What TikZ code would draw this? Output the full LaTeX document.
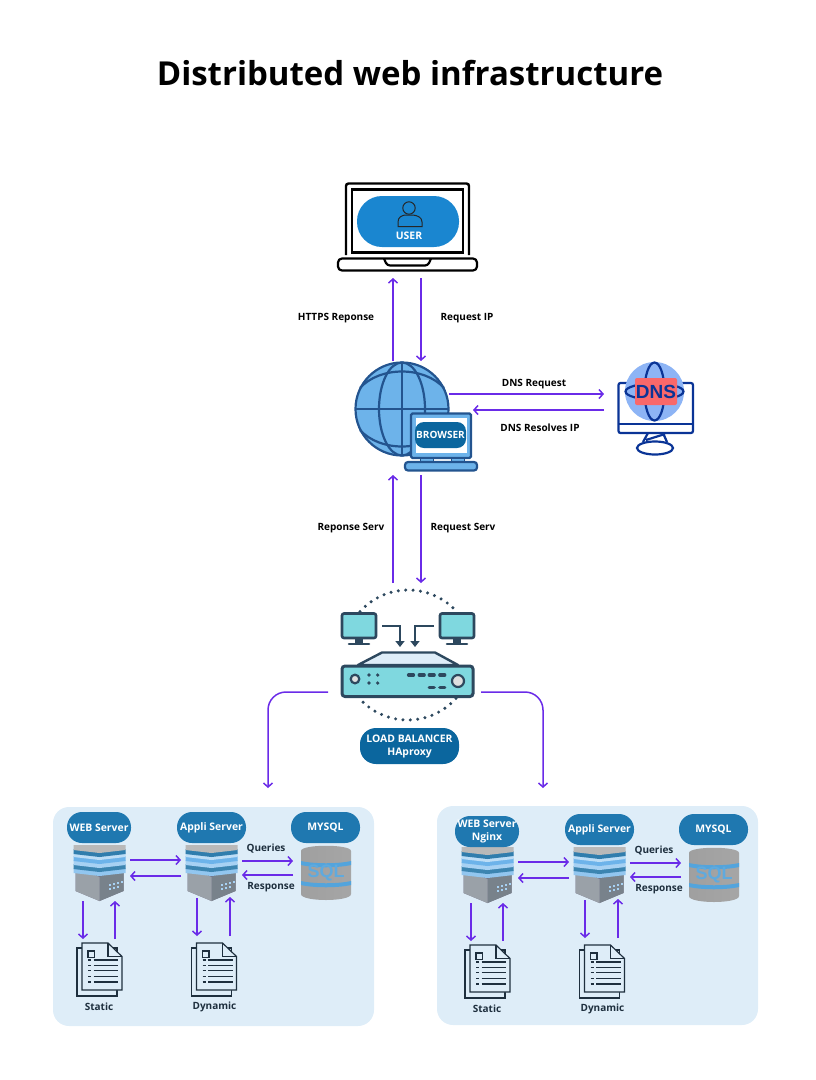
\documentclass[tikz,border=0pt]{standalone}
\usepackage{fontspec}
\setmainfont{Open Sans}
\newfontfamily\iconfont{Liberation Sans}
\usetikzlibrary{calc,positioning,arrows.meta}
\definecolor{myviolet}{RGB}{106,43,232}
\definecolor{mypanel}{RGB}{222,237,248}
\definecolor{mypill}{RGB}{31,120,176}
\definecolor{mydeep}{RGB}{11,102,158}
\definecolor{myuser}{RGB}{26,134,208}
\definecolor{myglobe}{RGB}{109,179,234}
\definecolor{mynavy}{RGB}{35,84,143}
\definecolor{mydns}{RGB}{10,52,150}
\definecolor{mydnsglobe}{RGB}{141,180,245}
\definecolor{mydnsred}{RGB}{249,104,106}
\definecolor{mylb}{RGB}{45,72,94}
\definecolor{mycyan}{RGB}{127,216,223}
\definecolor{myink}{RGB}{30,47,62}
\tikzset{
  flow/.style={-{Straight Barb[length=4pt,width=9pt]},myviolet,line width=1.5pt},
  lbflow/.style={-{Triangle[length=6pt,width=9pt]},mylb,line width=2.6pt},
  caption/.style={font=\fontsize{10}{12}\bfseries,text=black,inner sep=0pt},
  darkcaption/.style={font=\fontsize{10}{12}\bfseries,text=myink,inner sep=0pt},
  pill/.style={fill=#1,text=white,font=\fontsize{10.4}{13}\bfseries,align=center,rounded corners=15pt,inner sep=0pt},
  iconbox/.style={inner sep=0pt,outer sep=0pt},
  stackbox/.style={iconbox,minimum width=53pt,minimum height=56pt,outer xsep=4pt},
  sqlbox/.style={iconbox,minimum width=50pt,minimum height=53pt,outer xsep=8pt},
  docbox/.style={iconbox,minimum width=45pt,minimum height=53pt,outer ysep=4pt},
  panelbox/.style={iconbox,fill=mypanel,minimum width=321pt,minimum height=219pt,rounded corners=16pt},
  pics/serverstack/.style={code={
    \fill[black!10!blue!10!gray] (-24,-6) -- (24,-6) -- (24,18) -- (0,28) -- (-24,18) -- cycle;
    \fill[myink!60!white] (0,4) -- (24,-6) -- (24,18) -- (0,28) -- cycle;
    \fill[myink!45!white] (-24,-6) -- (0,4) -- (0,28) -- (-24,18) -- cycle;
    \foreach \y/\c in {-5/myglobe!75!white,-9/mydeep!80!white,-13/myglobe!60!white,-17/myglobe,-21/myglobe!45!white,-24/mydeep!85!white,-28/gray!55!white}{
      \fill[\c] (-26,\y) -- (26,\y) -- (26,\y+5) -- (0,\y+8) -- (-26,\y+5) -- cycle;
    }
    \foreach \x/\y in {9/11,13/10,17/9,21/8,9/15,13/14,17/13}{
      \fill[myglobe!60!white] (\x,\y) rectangle ++(2.5,2);
    }
  }},
  pics/sqldrum/.style={code={
    \shade[left color=gray!75,middle color=gray!20,right color=gray!70] (-25,-22) .. controls (-25,-29) and (25,-29) .. (25,-22) -- (25,21) .. controls (25,29) and (-25,29) .. (-25,21) -- cycle;
    \fill[myuser!75!white] (-25,-12) .. controls (-12,-9) and (12,-9) .. (25,-12) -- (25,-8) .. controls (12,-5) and (-12,-5) .. (-25,-8) -- cycle;
    \fill[myuser!75!white] (-25,8) .. controls (-12,11) and (12,11) .. (25,8) -- (25,12) .. controls (12,15) and (-12,15) .. (-25,12) -- cycle;
  }},
  pics/pagestack/.style={code={
    \draw[myink,line width=1.2pt,fill=mypanel] (-22.5,-21.5) rectangle (17.5,26.5);
    \draw[myink,line width=1.2pt,fill=mypanel] (-17.5,-26.5) -- (8.5,-26.5) -- (22.5,-13) -- (22.5,20.5) -- (-17.5,20.5) -- cycle;
    \draw[myink,line width=1.2pt] (8.5,-26.5) -- (8.5,-13) -- (22.5,-13);
    \draw[myink,line width=1.2pt] (-11.5,-18.5) rectangle (-5,-12);
    \foreach \y in {-9.5,-4,1,7,12.5}{
      \draw[myink,line width=1.2pt] (-11.5,\y) -- (-8.5,\y);
      \draw[myink,line width=1.2pt] (-6,\y) -- (18.5,\y);
    }
  }},
  pics/lbscreen/.style={code={
    \draw[mylb,line width=2.6pt,fill=mycyan,rounded corners=2pt] (-17,-12.5) rectangle (17,12);
    \fill[mylb] (-4,12) rectangle (4,17);
    \draw[mylb,line width=2.6pt,line cap=round] (-10,18) -- (10,18);
  }}
}
% one server group
\newcommand{\infrapanel}[5]{
  \begin{scope}[shift={(#2,#3)}]
    % server nodes
    \node[stackbox] (#1web) at (99.5,873) {};
    \node[stackbox] (#1appli) at (211.5,873) {};
    \node[sqlbox] (#1sql) at (326,873) {};
    \node[docbox] (#1static) at (99.5,969.5) {};
    \node[docbox] (#1dynamic) at (214,969.5) {};
    \pic at (#1web) {serverstack};
    \pic at (#1appli) {serverstack};
    \pic at (#1sql) {sqldrum};
    \pic at (#1static) {pagestack};
    \pic at (#1dynamic) {pagestack};
    \node[font=\iconfont\fontsize{18}{18}\bfseries,text=myuser!70!white,inner sep=0pt] (#1sqltext) at (326,872.5) {SQL};

    % titles
    \node[pill=mypill,minimum width=64pt,minimum height=31pt] (#1webtitle) at (99,#5) {#4};
    \node[pill=mypill,minimum width=69pt,minimum height=31pt] (#1applititle) at (211.5,827.5) {Appli Server};
    \node[pill=mypill,minimum width=69pt,minimum height=31pt] (#1sqltitle) at (325.5,827.5) {MYSQL};

    % connections
    \draw[flow] ([yshift=13pt]#1web.east) -- ([yshift=13pt]#1appli.west);
    \draw[flow] ([yshift=-3pt]#1appli.west) -- ([yshift=-3pt]#1web.east);
    \draw[flow] ([yshift=12pt]#1appli.east) -- ([yshift=12pt]#1sql.west);
    \draw[flow] ([yshift=-2pt]#1sql.west) -- ([yshift=-2pt]#1appli.east);
    \draw[flow] ([xshift=-16.5pt]#1web.south) -- ([xshift=-16.5pt]#1static.north);
    \draw[flow] ([xshift=15.5pt]#1static.north) -- ([xshift=15.5pt]#1web.south);
    \draw[flow] ([xshift=-14.5pt,yshift=3pt]#1appli.south) -- ([xshift=-17pt,yshift=3pt]#1dynamic.north);
    \draw[flow] ([xshift=16pt,yshift=3pt]#1dynamic.north) -- ([xshift=18.5pt,yshift=4pt]#1appli.south);

    % labels
    \node[darkcaption] (#1queries) at (266,848.5) {Queries};
    \node[darkcaption] (#1response) at (271,887) {Response};
    \node[darkcaption] (#1statictext) at (99,1007) {Static};
    \node[darkcaption] (#1dynamictext) at (214.5,1007) {Dynamic};
  \end{scope}
}
\begin{document}
\begin{tikzpicture}[x=1pt,y=-1pt]
  \useasboundingbox (0,0) rectangle (815,1080);

  % Title
  \node[font=\fontsize{33}{40}\bfseries,inner sep=0pt] (title) at (410,73) {Distributed web infrastructure};

  % Laptop
  \node[iconbox,minimum width=140pt,minimum height=95pt] (laptop) at (408,230.5) {};
  \draw[black,line width=2.4pt,rounded corners=2.5pt] (346,255) -- (346,183.5) -- (469,183.5) -- (469,255);
  \draw[black,line width=2.2pt] (352,189.5) rectangle (463,252.5);
  \draw[black,line width=2.2pt,rounded corners=4pt] (338,258.5) -- (477,258.5) -- (477,270.5) -- (338,270.5) -- cycle;
  \draw[black,line width=2.2pt,rounded corners=3pt] (384,258.5) -- (387,265.5) -- (428,265.5) -- (431,258.5);
  \node[iconbox,fill=myuser,minimum width=102pt,minimum height=51pt,rounded corners=25pt] (userpill) at (408,221.5) {};
  \draw[black!85,line width=1pt] (409,208) circle[radius=6.2];
  \draw[black!85,line width=1pt] (398,226.5) -- (398,222) .. controls (398,217) and (402,215.5) .. (405,215) -- (413,215) .. controls (417,215.5) and (422,217) .. (422,222) -- (422,226.5) -- cycle;
  \node[font=\fontsize{10.4}{12}\bfseries,text=white,inner sep=0pt] (usertext) at (409,235.5) {USER};

  % Globe and browser
  \node[iconbox,minimum width=118pt,minimum height=114pt] (browser) at (414,418) {};
  \draw[mynavy,line width=2.2pt,fill=myglobe] (402,409) circle[radius=46.5];
  \draw[mynavy,line width=2.2pt] (402,409) ellipse[x radius=23,y radius=46.5];
  \draw[mynavy,line width=2.2pt] (402,362.5) -- (402,455.5);
  \draw[mynavy,line width=2.2pt] (355.5,409) -- (448.5,409);
  \draw[mynavy,line width=2.2pt] (360,388) .. controls (380,366) and (424,366) .. (444,388);
  \draw[mynavy,line width=2.2pt] (360,430) .. controls (380,452) and (424,452) .. (444,430);
  \draw[mynavy,line width=2.2pt,fill=myglobe,rounded corners=1.5pt] (411,413.5) rectangle (471,458);
  \fill[white] (415.5,418) rectangle (467,453);
  \fill[myglobe,draw=mynavy,line width=1pt] (420,458) rectangle (433,462);
  \fill[myglobe,draw=mynavy,line width=1pt] (451,458) rectangle (464,462);
  \draw[mynavy,line width=2.2pt,fill=myglobe,rounded corners=3pt] (405,462) rectangle (477,470.5);
  \node[pill=mydeep,minimum width=51pt,minimum height=26pt,rounded corners=9pt,font=\fontsize{10}{12}\bfseries] (browsertext) at (440.5,435) {BROWSER};

  % DNS
  \node[iconbox,minimum width=90pt,minimum height=95pt] (dns) at (649,409.5) {};
  \draw[mydns,line width=2.2pt,fill=white,rounded corners=2pt] (618.5,383) rectangle (693,433);
  \draw[mydns,line width=2.2pt] (618.5,424) -- (693,424);
  \fill[mydnsglobe] (654.5,391.5) circle[radius=29.5];
  \draw[mydns,line width=2.2pt] (654.5,391.5) ellipse[x radius=10,y radius=29];
  \draw[mydns,line width=2.2pt] (654.5,391.5) ellipse[x radius=29,y radius=8];
  \draw[mydns,line width=2.2pt,line join=round] (648,433) -- (643,442) (663,433) -- (667,442) (646,440) -- (665,434);
  \draw[mydns,line width=2.2pt] (655,448) ellipse[x radius=18,y radius=6.5];
  \node[iconbox,fill=mydnsred,minimum width=42pt,minimum height=27pt,rounded corners=2pt,text=mydns,font=\iconfont\fontsize{19}{19}\bfseries] (dnstext) at (656,391.5) {DNS};

  % Load balancer
  \node[iconbox,minimum width=153pt,minimum height=139pt] (lb) at (404.5,652.5) {};
  \draw[mylb,line width=3.4pt,line cap=round,dash pattern=on 0pt off 7.4pt] (360,611.5) arc[start angle=222,end angle=318,radius=65];
  \draw[mylb,line width=3.4pt,line cap=round,dash pattern=on 0pt off 7.4pt] (456,698.5) arc[start angle=42,end angle=138,radius=65];
  \pic at (359,626) {lbscreen};
  \pic at (457,626) {lbscreen};
  \draw[lbflow] (382,626) -- (400,626) -- (400,647);
  \draw[lbflow] (434,626) -- (415,626) -- (415,647);
  \draw[mylb,line width=2.4pt,fill=mypanel,line join=round] (358,665) -- (382,652.5) -- (435,652.5) -- (458,665) -- cycle;
  \draw[mylb,line width=3pt,fill=mycyan,rounded corners=3pt] (342,666) rectangle (473,696.5);
  \draw[mylb,line width=2.2pt,fill=gray!25] (355,679) circle[radius=4.3];
  \draw[mylb,line width=2.2pt,fill=gray!25] (458,681) circle[radius=6];
  \foreach \x/\y in {369/675,377.7/675,369/683,377.7/683}{
    \fill[mylb] (\x,\y) circle[radius=1.8];
  }
  \foreach \x/\y in {411/675,421.7/675,431.7/675,442.3/675,431.7/687.7,442.3/687.7}{
    \draw[mylb,line width=3.2pt,line cap=round] (\x-2.5,\y) -- (\x+2.5,\y);
  }
  \node[pill=mydeep,minimum width=99pt,minimum height=36pt,rounded corners=16pt] (lbtitle) at (409.5,746) {LOAD BALANCER\\HAproxy};

  % Server groups
  \node[panelbox] (leftpanel) at (213.5,916.5) {};
  \node[panelbox] (rightpanel) at (597.5,915.5) {};
  \infrapanel{l}{0}{0}{WEB Server}{827.5}
  \infrapanel{r}{388}{2}{WEB Server\\Nginx}{829.5}

  % Connections
  \draw[flow] ([xshift=-21pt]browser.north) -- ([xshift=-15pt]laptop.south);
  \draw[flow] ([xshift=13pt]laptop.south) -- ([xshift=7pt]browser.north);
  \draw[flow] ([xshift=-24pt,yshift=24pt]browser.east) -- ([yshift=15.5pt]dns.west);
  \draw[flow] ([yshift=-0.5pt]dns.west) -- ([yshift=8pt]browser.east);
  \draw[flow] ([xshift=-11.5pt]lb.north) -- ([xshift=-21pt]browser.south);
  \draw[flow] ([xshift=7pt]browser.south) -- ([xshift=16.5pt]lb.north);
  \draw[flow,rounded corners=18pt] ([yshift=-39.5pt]lb.west) -| ([xshift=54.5pt,yshift=19pt]leftpanel.north);
  \draw[flow,rounded corners=18pt] ([yshift=-39.5pt]lb.east) -| ([xshift=-54.5pt,yshift=18pt]rightpanel.north);

  % Labels
  \node[caption] (httpslabel) at (336,318) {HTTPS Reponse};
  \node[caption] (iplabel) at (467,318) {Request IP};
  \node[caption] (dnsreqlabel) at (534,384) {DNS Request};
  \node[caption] (dnsreslabel) at (540,428) {DNS Resolves IP};
  \node[caption] (servresplabel) at (351,528) {Reponse Serv};
  \node[caption] (servreqlabel) at (463,528) {Request Serv};
\end{tikzpicture}
\end{document}
